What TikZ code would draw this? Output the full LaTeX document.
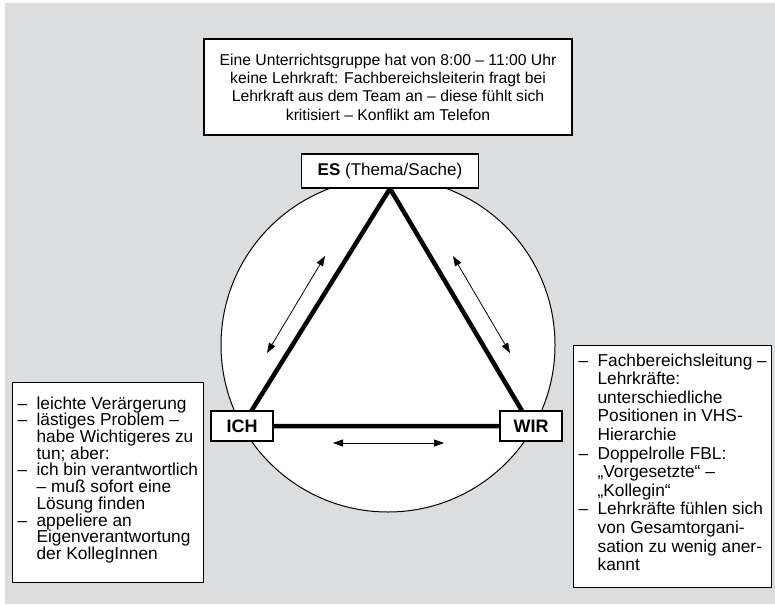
\documentclass[tikz,border=0pt]{standalone}
\usepackage{fontspec}
\setmainfont{Liberation Sans}
\usetikzlibrary{arrows.meta,backgrounds}
\definecolor{panelgray}{RGB}{220,221,223}
\newcommand{\itemdash}{\makebox[19pt][l]{–}}
\newcommand{\itemgap}{\hspace*{19pt}}
\tikzset{every picture/.style={line width=0.75pt}}

\begin{document}
\begin{tikzpicture}[x=1pt,y=1pt,yscale=-1,xscale=1,
  box/.style={draw,fill=white,line width=1.2pt,inner sep=0pt},
  corner/.style={box,minimum width=62pt,minimum height=30pt,font=\fontsize{18}{18}\selectfont\bfseries},
  side/.style={box,anchor=north west,align=left,inner xsep=5pt,inner ysep=#1pt,
    execute at end node={\rule[-9pt]{0pt}{9pt}}},
  relation/.style={{Triangle[length=10pt,width=7pt]}-{Triangle[length=10pt,width=7pt]},line width=0.8pt}]
\useasboundingbox (0,0) rectangle (775,604);

% Text Node
\node[box,align=center,minimum width=368pt,minimum height=96pt,font=\fontsize{15.7}{18.3}\selectfont] (case) at (388,87) {Eine Unterrichtsgruppe hat von 8:00 – 11:00 Uhr\\keine Lehrkraft: Fachbereichsleiterin fragt bei\\Lehrkraft aus dem Team an – diese fühlt sich\\kritisiert – Konflikt am Telefon};
% Text Node
\node[box,minimum width=177pt,minimum height=34pt,font=\fontsize{17}{17}\selectfont] (es) at (390,171) {\textbf{ES} (Thema/Sache)};
% Text Node
\node[corner] (ich) at (242,426) {ICH};
% Text Node
\node[corner] (wir) at (531,426) {WIR};

% Text Node
\node[side=14,font=\fontsize{17.3}{16.7}\selectfont] (ichnotes) at (12,382) {\itemdash leichte Verärgerung\\
\itemdash lästiges Problem –\\
\itemgap habe Wichtigeres zu\\
\itemgap tun; aber:\\
\itemdash ich bin verantwortlich\\
\itemgap – muß sofort eine\\
\itemgap Lösung finden\\
\itemdash appeliere an\\
\itemgap Eigenverantwortung\\
\itemgap der KollegInnen};
% Text Node
\node[side=8,font=\fontsize{17.3}{18.6}\selectfont] (wirnotes) at (573,345) {\itemdash Fachbereichsleitung –\\
\itemgap Lehrkräfte:\\
\itemgap unterschiedliche\\
\itemgap Positionen in VHS-\\
\itemgap Hierarchie\\
\itemdash Doppelrolle FBL:\\
\itemgap „Vorgesetzte“ –\\
\itemgap „Kollegin“\\
\itemdash Lehrkräfte fühlen sich\\
\itemgap von Gesamtorgani-\\
\itemgap sation zu wenig aner-\\
\itemgap kannt};

\begin{pgfonlayer}{background}
%Shape: Rectangle
\fill[panelgray] (5,3) rectangle (775,604);
%Shape: Circle
\draw[fill=white,line width=1pt] (388,345) circle (167pt);
%Shape: Triangle
\draw[line width=4.5pt] (es.south) -- (ich.center) -- (wir.center) -- cycle;
\end{pgfonlayer}

%Straight Lines
\coordinate (ichlow) at (267,353);
\coordinate (eslow) at (325,256);
\draw[relation] (ichlow) -- (eslow);
%Straight Lines
\coordinate (esright) at (453,256);
\coordinate (wirhigh) at (510,353);
\draw[relation] (esright) -- (wirhigh);
%Straight Lines
\coordinate (ichright) at (333,443);
\coordinate (wirleft) at (444,443);
\draw[relation] (ichright) -- (wirleft);

\end{tikzpicture}
\end{document}
